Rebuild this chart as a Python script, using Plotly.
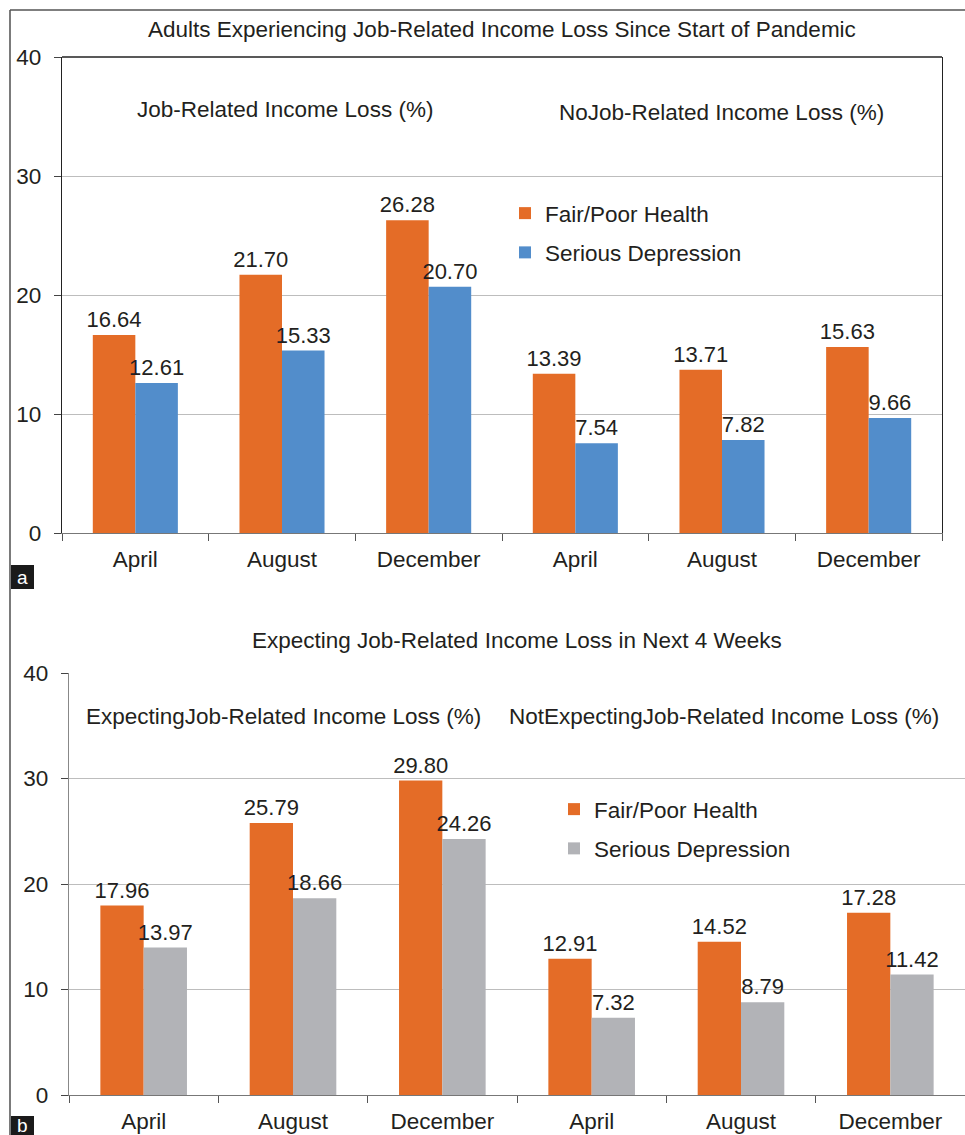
import plotly.graph_objects as go

# Survey months, shown twice per panel (with / without income loss)
months = ["April", "August", "December", "April", "August", "December"]

# Panel a: job-related income loss since start of pandemic (%)
a_fair_poor = [16.64, 21.70, 26.28, 13.39, 13.71, 15.63]
a_depression = [12.61, 15.33, 20.70, 7.54, 7.82, 9.66]

# Panel b: expecting job-related income loss in next 4 weeks (%)
b_fair_poor = [17.96, 25.79, 29.80, 12.91, 14.52, 17.28]
b_depression = [13.97, 18.66, 24.26, 7.32, 8.79, 11.42]

y_ticks = [0, 10, 20, 30, 40]

W, H = 965, 1135
FONT = "Liberation Sans, Arial, sans-serif"
TXT = "#231F20"
ORANGE = "#E46C27"
BLUE = "#528DCB"
GREY = "#B2B3B7"
FS = 22.5

pos = list(range(len(months)))


def px(x):
    return x / W


def py(y):
    return 1 - y / H


fig = go.Figure()

fig.add_trace(go.Bar(x=pos, y=a_fair_poor, name="Fair/Poor Health", marker_color=ORANGE,
                     xaxis="x", yaxis="y", legend="legend", legendgroup="a1"))
fig.add_trace(go.Bar(x=pos, y=a_depression, name="Serious Depression", marker_color=BLUE,
                     xaxis="x", yaxis="y", legend="legend", legendgroup="a2"))
fig.add_trace(go.Bar(x=pos, y=b_fair_poor, name="Fair/Poor Health", marker_color=ORANGE,
                     xaxis="x2", yaxis="y2", legend="legend2", legendgroup="b1"))
fig.add_trace(go.Bar(x=pos, y=b_depression, name="Serious Depression", marker_color=GREY,
                     xaxis="x2", yaxis="y2", legend="legend2", legendgroup="b2"))

fig.update_traces(texttemplate="%{y:.2f}", textposition="outside", cliponaxis=False,
                  constraintext="none", textfont=dict(size=22, color=TXT),
                  marker_line_width=0)

common_x = dict(
    range=[-0.5, 5.5], tickvals=pos, ticktext=months, ticks="", showgrid=False,
    tickfont=dict(size=FS, color=TXT), zeroline=False, automargin=False,
    ticklabelstandoff=6,
    minor=dict(tick0=0.5, dtick=1, ticks="outside", ticklen=7, tickcolor="#555", showgrid=False),
)
common_y = dict(
    range=[0, 40], tickvals=y_ticks, ticks="outside", ticklen=7, tickcolor="#444",
    showgrid=True, gridcolor="#BDBDBD", gridwidth=1, zeroline=False, automargin=False,
    tickfont=dict(size=FS, color=TXT), ticklabelstandoff=8,
)

fig.update_layout(
    width=W, height=H, margin=dict(l=0, r=0, t=0, b=0, autoexpand=False),
    paper_bgcolor="white", plot_bgcolor="white",
    font=dict(family=FONT, color=TXT),
    barmode="group", bargap=0.42, bargroupgap=0,
    xaxis=dict(domain=[px(62), px(942)], anchor="y", showline=True, linecolor="#777",
               linewidth=1.3, **common_x),
    yaxis=dict(domain=[py(533), py(57)], anchor="x", showline=True, linecolor="#222",
               linewidth=1.3, mirror=True, **common_y),
    xaxis2=dict(domain=[px(69), 1.0], anchor="y2", showline=True, linecolor="#777",
                linewidth=1.3, **common_x),
    yaxis2=dict(domain=[py(1095), py(673)], anchor="x2", showline=True, linecolor="#888",
                linewidth=1.3, **common_y),
    legend=dict(x=px(505), y=py(192), xanchor="left", yanchor="top", traceorder="grouped",
                tracegroupgap=7, font=dict(size=FS, color=TXT), bgcolor="rgba(0,0,0,0)"),
    legend2=dict(x=px(554), y=py(788), xanchor="left", yanchor="top", traceorder="grouped",
                 tracegroupgap=7, font=dict(size=FS, color=TXT), bgcolor="rgba(0,0,0,0)"),
    showlegend=True,
)

annotations = [
    dict(text="Adults Experiencing Job-Related Income Loss Since Start of Pandemic",
         x=px(502), y=py(30)),
    dict(text="Job-Related Income Loss (%)", x=px(285), y=py(110)),
    dict(text="NoJob-Related Income Loss (%)", x=px(721), y=py(112)),
    dict(text="Expecting Job-Related Income Loss in Next 4 Weeks", x=px(517), y=py(640)),
    dict(text="ExpectingJob-Related Income Loss (%)", x=px(283), y=py(716)),
    dict(text="NotExpectingJob-Related Income Loss (%)", x=px(724), y=py(716)),
]
for a in annotations:
    fig.add_annotation(text=a["text"], x=a["x"], y=a["y"], xref="paper", yref="paper",
                       xanchor="center", yanchor="middle", showarrow=False,
                       font=dict(size=FS, color=TXT, family=FONT))

# Panel letters in black badges
for letter, y0, y1 in [("a", 565, 589), ("b", 1116, 1135)]:
    fig.add_shape(type="rect", xref="paper", yref="paper", x0=px(11), x1=px(34),
                  y0=py(y1), y1=py(y0), fillcolor="#1A1A1A", line_width=0)
    fig.add_annotation(text=letter, x=px(22.5), y=py((y0 + y1) / 2), xref="paper", yref="paper",
                       showarrow=False, xanchor="center", yanchor="middle",
                       font=dict(size=19, color="white", family=FONT))

# Top border of panel a plot box
fig.add_shape(type="line", xref="x domain", yref="y domain", x0=0, x1=1, y0=1, y1=1,
              line=dict(color="#222", width=1.3))

# Outer frame (left and top edges)
fig.add_shape(type="line", xref="paper", yref="paper", x0=px(10), x1=px(10), y0=0, y1=py(10),
              line=dict(color="#333", width=1.3))
fig.add_shape(type="line", xref="paper", yref="paper", x0=px(10), x1=1, y0=py(10), y1=py(10),
              line=dict(color="#555", width=1.3))

fig.write_html("out.html")
